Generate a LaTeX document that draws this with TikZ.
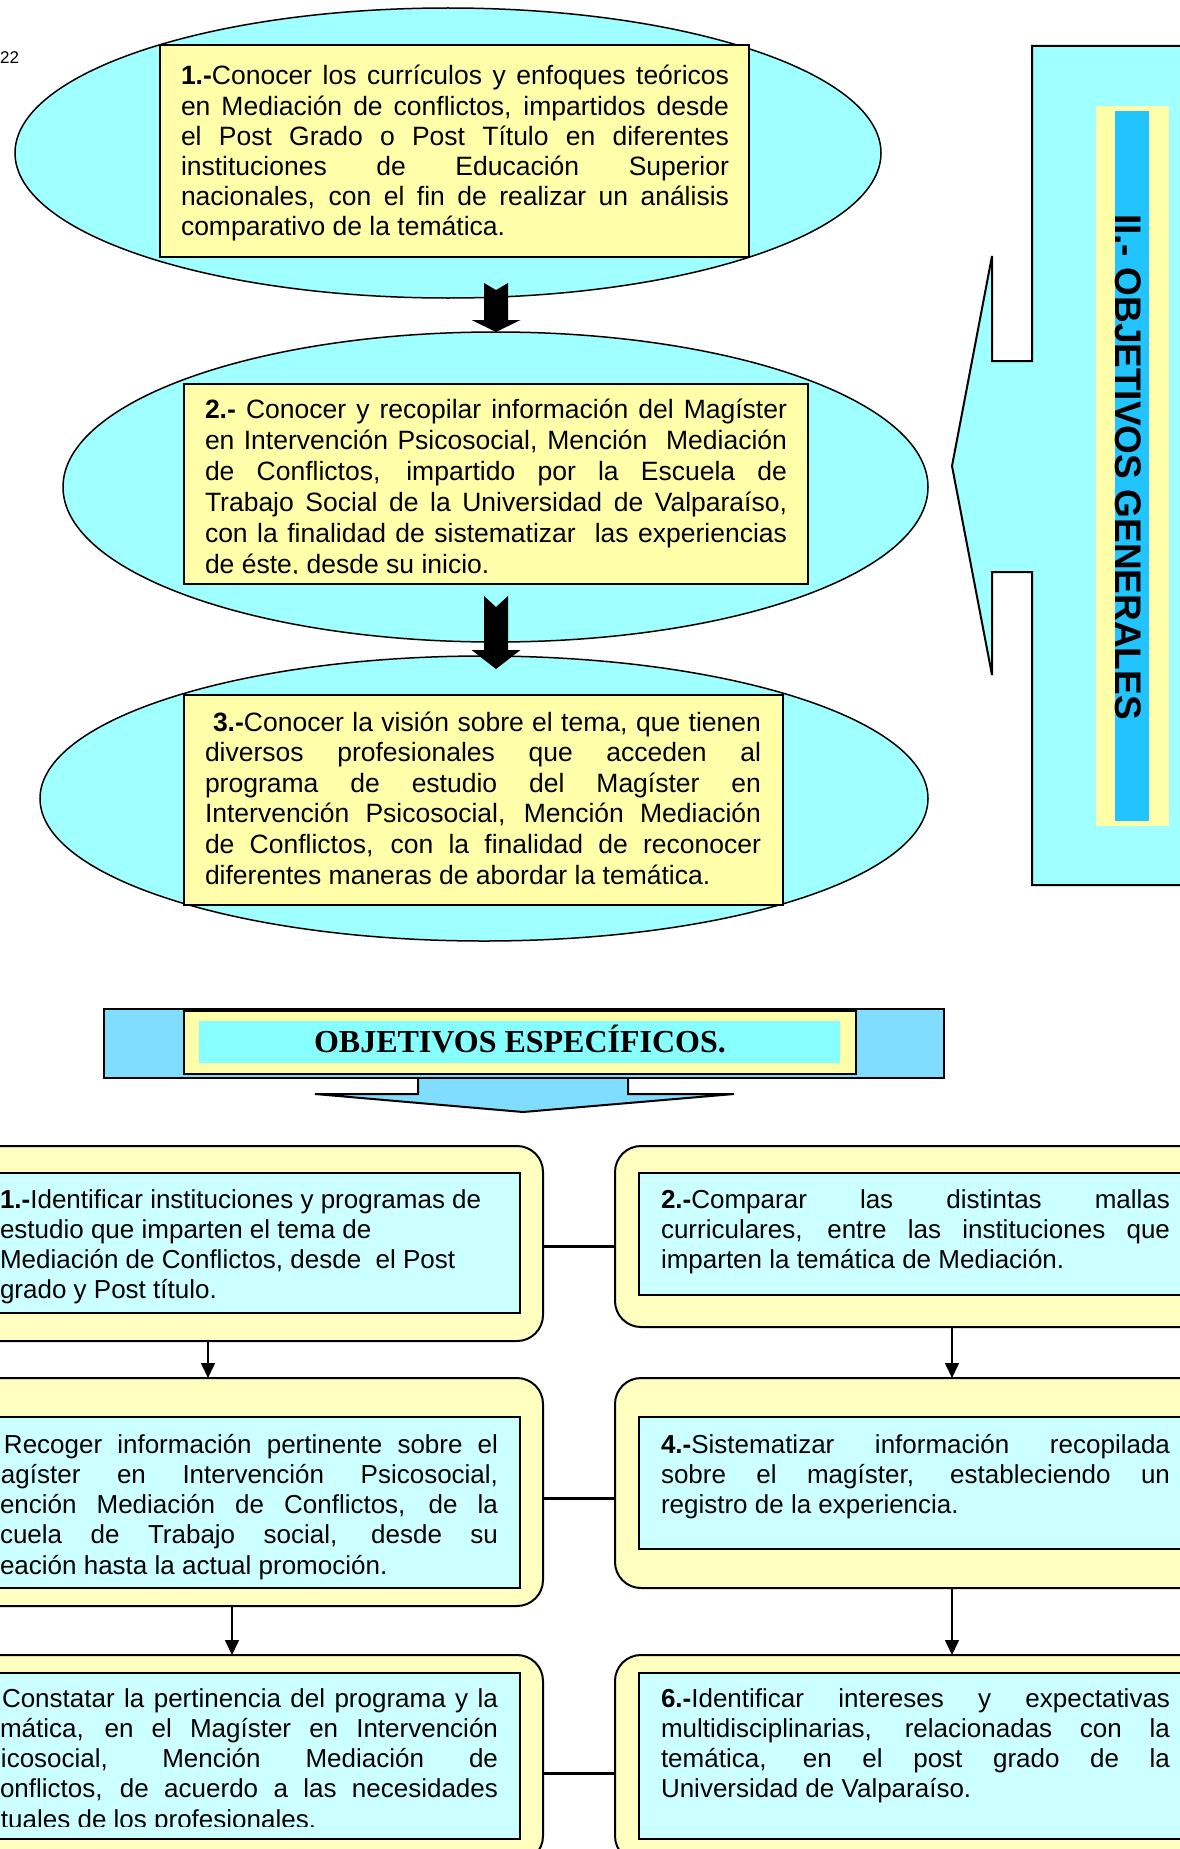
\documentclass[tikz,border=0pt]{standalone}
\usepackage{fontspec}
\setmainfont{Liberation Sans}
\newfontfamily\timesf{Liberation Serif}
\usetikzlibrary{shapes.geometric,arrows.meta}

\definecolor{ellcyan}{HTML}{A0FFFF}
\definecolor{boxyel}{HTML}{FFFFAA}
\definecolor{outyel}{HTML}{FFFFC0}
\definecolor{incyan}{HTML}{CCFFFF}
\definecolor{banblue}{HTML}{80DDFF}
\definecolor{bancyan}{HTML}{88FFFF}
\definecolor{vblue}{HTML}{22C4FF}

\newcommand\jline[1]{\makebox[\linewidth][s]{#1}}
\newcommand\lline[1]{\makebox[\linewidth][l]{#1}}
\newcommand\txtblock[4]{\parbox[t]{#1}{\fontsize{#2}{#3}\selectfont #4}}

\begin{document}
\begin{tikzpicture}[x=1pt,y=-1pt,
  ell/.style={ellipse, draw=black, line width=1.5pt, fill=ellcyan, inner sep=0pt, outer sep=0pt},
  ybox/.style={rectangle, draw=black, line width=2.5pt, fill=boxyel, inner sep=0pt, outer sep=0pt, anchor=north west},
  obox/.style={rectangle, rounded corners=26pt, draw=black, line width=2pt, fill=outyel, inner sep=0pt, outer sep=0pt, anchor=north west, minimum width=603pt},
  ibox/.style={rectangle, draw=black, line width=2.5pt, fill=incyan, inner sep=0pt, outer sep=0pt, anchor=north west, minimum width=560pt},
  plain/.style={rectangle, inner sep=0pt, outer sep=0pt, anchor=north west},
  txt/.style={anchor=base west, inner sep=0pt, outer sep=0pt},
  hlink/.style={line width=3pt},
  vlink/.style={line width=1.5pt, -{Triangle[width=14pt,length=15pt]}},
  blk/.style={fill=black},
]
\useasboundingbox (0,0) rectangle (1180,1849);
\fill[white] (0,0) rectangle (1180,1849);
\clip (0,0) rectangle (1180,1849);

% page number
\node[anchor=base west, inner sep=0pt, font=\fontsize{17}{20}\selectfont] (pg) at (0,64) {22};

% ---------- top: general objectives ----------
\node[ell, minimum width=866pt, minimum height=290pt] (E1) at (448,153) {};
\node[ell, minimum width=865pt, minimum height=310pt] (E2) at (495.5,487) {};
\node[ell, minimum width=888pt, minimum height=285pt] (E3) at (484,798.5) {};

\node[ybox, minimum width=589pt, minimum height=212pt] (B1) at (160,45) {};
\node[ybox, minimum width=624pt, minimum height=200pt] (B2) at (184,384) {};
\node[ybox, minimum width=599pt, minimum height=210pt] (B3) at (184,695) {};

\node[txt] (T1) at (181,85) {\txtblock{548pt}{26.5}{30.2pt}{%
\jline{\textbf{1.-}Conocer los currículos y enfoques teóricos}\\
\jline{en Mediación de conflictos, impartidos desde}\\
\jline{el Post Grado o Post Título en diferentes}\\
\jline{instituciones de Educación Superior}\\
\jline{nacionales, con el fin de realizar un análisis}\\
\lline{comparativo de la temática.}}};

\begin{scope}
\clip (150,380) rectangle (850,573.5);
\node[txt] (T2) at (205,418) {\txtblock{582pt}{26.5}{31pt}{%
\jline{\textbf{2.-} Conocer y recopilar información del Magíster}\\
\jline{en Intervención Psicosocial, Mención\ \ Mediación}\\
\jline{de Conflictos, impartido por la Escuela de}\\
\jline{Trabajo Social de la Universidad de Valparaíso,}\\
\jline{con la finalidad de sistematizar\ \ las experiencias}\\
\lline{de éste, desde su inicio.}}};
\end{scope}

\node[txt] (T3) at (205,731) {\txtblock{556pt}{26.5}{30.6pt}{%
\jline{\hspace*{8pt}\textbf{3.-}Conocer la visión sobre el tema, que tienen}\\
\jline{diversos profesionales que acceden al}\\
\jline{programa de estudio del Magíster en}\\
\jline{Intervención Psicosocial, Mención Mediación}\\
\jline{de Conflictos, con la finalidad de reconocer}\\
\lline{diferentes maneras de abordar la temática.}}};

% black block arrows
\coordinate (a1) at (496,283);
\coordinate (a2) at (496,596);
\fill[blk] (a1) ++(-12,0) -- ++(12,7) -- ++(12,-7) -- ++(0,37) -- ++(12.5,0)
  -- ++(-24.5,12) -- ++(-24.5,-12) -- ++(12.5,0) -- cycle;
\fill[blk] (a2) ++(-12,0) -- ++(12,11) -- ++(12,-11) -- ++(0,54) -- ++(12.5,0)
  -- ++(-24.5,19) -- ++(-24.5,-19) -- ++(12.5,0) -- cycle;

% big left-pointing arrow on the right
\draw[line width=2pt, fill=ellcyan] (1200,46) -- (1032,46) -- (1032,361) -- (992,361)
  -- (992,256) -- (952,466) -- (992,675) -- (992,572) -- (1032,572) -- (1032,885)
  -- (1200,885) -- cycle;
\node[plain, fill=boxyel, minimum width=73pt, minimum height=720pt] (VY) at (1096,106) {};
\node[plain, fill=vblue, minimum width=34pt, minimum height=710pt] (VB) at (1115,111) {};
\node[rotate=-90, inner sep=0pt, font=\fontsize{37}{40}\selectfont\bfseries] (VT) at (1128,467) {II.- OBJETIVOS GENERALES};

% ---------- banner: specific objectives ----------
\draw[line width=2pt, fill=banblue] (418,1070) -- (418,1094) -- (315,1094) -- (523,1112)
  -- (734,1094) -- (628,1094) -- (628,1070) -- cycle;
\node[plain, fill=banblue, draw=black, line width=2.5pt, minimum width=840pt, minimum height=69pt] (BO) at (104,1009) {};
\node[plain, fill=boxyel, draw=black, line width=2pt, minimum width=672pt, minimum height=63pt] (BY) at (184,1011) {};
\node[plain, fill=bancyan, minimum width=641pt, minimum height=42pt] (BC) at (199,1021) {};
\node[anchor=base, inner sep=0pt, font=\timesf\bfseries\fontsize{32}{34}\selectfont] (BT) at (520,1052) {OBJETIVOS ESPECÍFICOS.};

% ---------- bottom boxes ----------
\node[obox, minimum height=195pt] (L1) at (-60,1146) {};
\node[ibox, minimum height=140pt] (L1i) at (-40,1173) {};
\node[txt] (L1t) at (0,1208) {\txtblock{515pt}{26}{30pt}{%
\lline{\textbf{1.-}Identificar instituciones y programas de}\\
\lline{estudio que imparten el tema de}\\
\lline{Mediación de Conflictos, desde\ \ el Post}\\
\lline{grado y Post título.}}};

\node[obox, minimum height=181pt] (R2) at (615,1146) {};
\node[ibox, minimum height=122pt] (R2i) at (639,1173) {};
\node[txt] (R2t) at (661,1208) {\txtblock{509pt}{26}{30pt}{%
\jline{\textbf{2.-}Comparar las distintas mallas}\\
\jline{curriculares, entre las instituciones que}\\
\lline{imparten la temática de Mediación.}}};

\node[obox, minimum height=228pt] (L3) at (-60,1378) {};
\node[ibox, minimum height=171pt] (L3i) at (-40,1417) {};
\node[txt] (L3t) at (0,1453) {\txtblock{498pt}{26}{30.3pt}{%
\jline{\hspace*{4pt}Recoger información pertinente sobre el}\\
\jline{\hspace*{1pt}agíster en Intervención Psicosocial,}\\
\jline{ención Mediación de Conflictos, de la}\\
\jline{cuela de Trabajo social, desde su}\\
\lline{eación hasta la actual promoción.}}};

\node[obox, minimum height=210pt] (R4) at (615,1378) {};
\node[ibox, minimum height=132pt] (R4i) at (639,1417) {};
\node[txt] (R4t) at (661,1453) {\txtblock{509pt}{26}{30.3pt}{%
\jline{\textbf{4.-}Sistematizar información recopilada}\\
\jline{sobre el magíster, estableciendo un}\\
\lline{registro de la experiencia.}}};

\node[obox, minimum height=207pt] (L5) at (-60,1655) {};
\node[ibox, minimum height=166pt] (L5i) at (-40,1673) {};
\begin{scope}
\clip (-60,1675) rectangle (519,1826.5);
\node[txt] (L5t) at (0,1707) {\txtblock{498pt}{26}{30.3pt}{%
\jline{\hspace*{2pt}Constatar la pertinencia del programa y la}\\
\jline{mática, en el Magíster en Intervención}\\
\jline{\hspace*{1pt}icosocial, Mención Mediación de}\\
\jline{onflictos, de acuerdo a las necesidades}\\
\lline{\hspace*{1pt}tuales de los profesionales.}}};
\end{scope}

\node[obox, minimum height=207pt] (R6) at (615,1655) {};
\node[ibox, minimum height=166pt] (R6i) at (639,1673) {};
\node[txt] (R6t) at (661,1707) {\txtblock{509pt}{26}{30.3pt}{%
\jline{\textbf{6.-}Identificar intereses y expectativas}\\
\jline{multidisciplinarias, relacionadas con la}\\
\jline{temática, en el post grado de la}\\
\lline{Universidad de Valparaíso.}}};

% connectors
\coordinate (h1) at (0,1246);
\coordinate (h2) at (0,1498);
\coordinate (h3) at (0,1773);
\draw[hlink] (L1.east |- h1) -- (R2.west |- h1);
\draw[hlink] (L3.east |- h2) -- (R4.west |- h2);
\draw[hlink] (L5.east |- h3) -- (R6.west |- h3);

\coordinate (va) at (208,0);
\coordinate (vb) at (952,0);
\coordinate (vc) at (232,0);
\draw[vlink] (L1.south -| va) -- (L3.north -| va);
\draw[vlink] (R2.south -| vb) -- (R4.north -| vb);
\draw[vlink] (L3.south -| vc) -- (L5.north -| vc);
\draw[vlink] (R4.south -| vb) -- (R6.north -| vb);
\end{tikzpicture}
\end{document}
